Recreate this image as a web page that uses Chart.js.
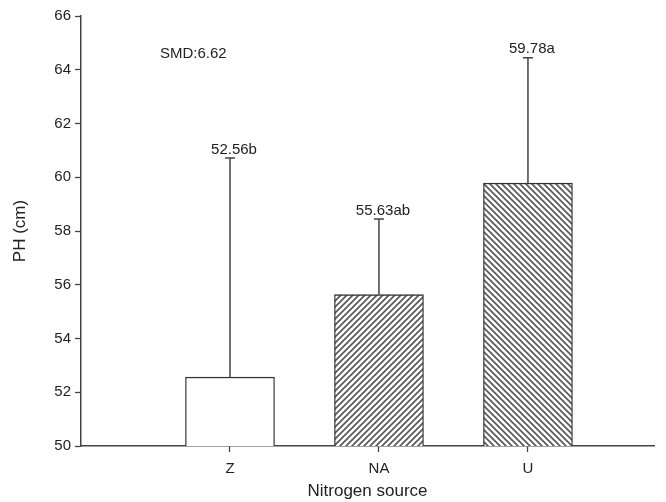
<!DOCTYPE html>
<html>
<head>
<meta charset="utf-8">
<script src="https://cdn.jsdelivr.net/npm/chart.js@4/dist/chart.umd.min.js"></script>
<style>
  html, body { margin: 0; padding: 0; background: #fff; }
  #wrap { width: 666px; height: 502px; }
</style>
</head>
<body>
<div id="wrap"><canvas id="ph-chart" width="666" height="502"></canvas></div>
<script>
// values
const categories = ['Z', 'NA', 'U'];
const means      = [52.56, 55.63, 59.78];
const upperErr   = [60.72, 58.45, 64.45];
const letters    = ['b', 'ab', 'a'];
const yTicks     = [50, 52, 54, 56, 58, 60, 62, 64, 66];
const smdText    = 'SMD:6.62';

const FONT = '"Liberation Sans", Arial, sans-serif';
const INK = '#222';

function hatch(dir) {
  const s = 6;
  const c = document.createElement('canvas');
  c.width = s; c.height = s;
  const g = c.getContext('2d');
  g.fillStyle = '#fff';
  g.fillRect(0, 0, s, s);
  g.strokeStyle = '#555';
  g.lineWidth = 1.6;
  g.beginPath();
  if (dir === '/') {
    g.moveTo(-1, s + 1); g.lineTo(s + 1, -1);
    g.moveTo(-1, 1);     g.lineTo(1, -1);
    g.moveTo(s - 1, s + 1); g.lineTo(s + 1, s - 1);
  } else {
    g.moveTo(-1, -1); g.lineTo(s + 1, s + 1);
    g.moveTo(-1, s - 1); g.lineTo(1, s + 1);
    g.moveTo(s - 1, -1); g.lineTo(s + 1, 1);
  }
  g.stroke();
  return g.createPattern(c, 'repeat');
}

const ctx = document.getElementById('ph-chart');
const fills = ['#fff', hatch('/'), hatch('\\')];

// error bars, letters and SMD note
const errorPlugin = {
  id: 'errorBars',
  afterDatasetsDraw(chart) {
    const { ctx: c, scales: { x, y } } = chart;
    c.save();
    c.strokeStyle = '#444';
    c.lineWidth = 1.5;
    c.fillStyle = INK;
    c.font = '15px ' + FONT;
    c.textAlign = 'center';
    c.textBaseline = 'bottom';
    means.forEach((m, i) => {
      const px = x.getPixelForValue(i + 1);
      const yTop = y.getPixelForValue(upperErr[i]);
      const yBar = y.getPixelForValue(m);
      c.beginPath();
      c.moveTo(px, yBar); c.lineTo(px, yTop);
      c.moveTo(px - 5, yTop); c.lineTo(px + 5, yTop);
      c.stroke();
      c.fillText(m.toFixed(2) + letters[i], px + 4, yTop - 1);
    });
    c.textAlign = 'left';
    c.textBaseline = 'middle';
    c.fillText(smdText, 160, 54);
    c.restore();
  }
};

new Chart(ctx, {
  type: 'bar',
  data: {
    datasets: [{
      data: means.map((v, i) => ({ x: i + 1, y: v })),
      backgroundColor: fills,
      borderColor: '#333',
      borderWidth: 1.3,
      borderSkipped: 'bottom',
      barThickness: 89,
    }],
  },
  options: {
    responsive: false,
    animation: false,
    events: [],
    layout: { padding: { top: 16, right: 12, left: 6, bottom: 0 } },
    plugins: { legend: { display: false }, tooltip: { enabled: false } },
    scales: {
      x: {
        type: 'linear', min: 0, max: 3.846, offset: false,
        afterBuildTicks: s => { s.ticks = categories.map((_, i) => ({ value: i + 1 })); },
        afterFit: s => { s.height = 56; },
        grid: { display: true, offset: false, drawOnChartArea: false, tickLength: 6, tickColor: '#444', tickWidth: 1.3 },
        border: { color: '#444', width: 1.5 },
        ticks: { color: INK, font: { size: 15, family: FONT }, padding: 8, autoSkip: false, maxRotation: 0,
                 callback: v => categories[v - 1] },
        title: { display: true, text: 'Nitrogen source', color: INK, font: { size: 17, family: FONT }, padding: { top: 2, bottom: 0 } },
      },
      y: {
        min: 50, max: 66,
        afterBuildTicks: s => { s.ticks = yTicks.map(v => ({ value: v })); },
        afterFit: s => { s.width = 75; },
        grid: { display: true, drawOnChartArea: false, tickLength: 6, tickColor: '#444', tickWidth: 1.3 },
        border: { color: '#444', width: 1.5 },
        ticks: { color: INK, font: { size: 15, family: FONT }, padding: 4 },
        title: { display: true, text: 'PH (cm)', color: INK, font: { size: 17, family: FONT }, padding: { bottom: 4 } },
      },
    },
  },
  plugins: [errorPlugin],
});
</script>
</body>
</html>
